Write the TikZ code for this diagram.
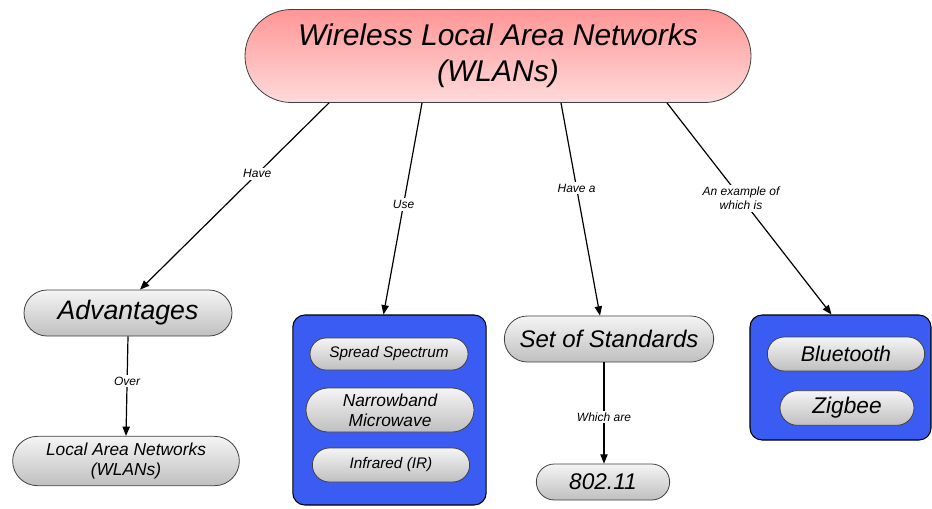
\documentclass[tikz,border=0pt]{standalone}
\usepackage{fontspec}
\setmainfont{Liberation Sans}
\usetikzlibrary{shapes.misc, arrows.meta, calc}
\definecolor{wlanblue}{RGB}{58,92,242}
\definecolor{wlanpinktop}{RGB}{255,150,150}
\definecolor{wlanpinkbot}{RGB}{255,218,218}

\begin{document}
\begin{tikzpicture}[x=0.75pt, y=-0.75pt,
    pill/.style={rounded rectangle, draw=black!75, line width=0.6pt,
      top color=gray!8, bottom color=gray!50, align=center, inner sep=0pt},
    group/.style={rectangle, rounded corners=9pt, draw=black, line width=0.8pt, fill=wlanblue},
    link/.style={-{Triangle[length=7pt,width=5.5pt]}, line width=0.9pt},
    lbl/.style={fill=white, font=\itshape\fontsize{9}{10.5}\selectfont, align=center, inner sep=1.5pt}]
    \useasboundingbox (0,0) rectangle (932,508);
    % blue groups first
    \node[group, minimum width=145pt, minimum height=142.5pt] (use) at (389.5,410) {};
    \node[group, minimum width=135.75pt, minimum height=93.75pt] (example) at (840.5,377.5) {};
    % main concept
    \node[pill, top color=wlanpinktop, bottom color=wlanpinkbot, minimum width=379.5pt, minimum height=69.75pt,
      font=\itshape\fontsize{22.5}{27}\selectfont] (wlan) at (498,56) {Wireless Local Area Networks\\(WLANs)};
    % left branch
    \node[pill, minimum width=156pt, minimum height=34.5pt, font=\itshape\fontsize{20}{24}\selectfont] (adv) at (128,313) {Advantages};
    \node[pill, minimum width=170pt, minimum height=37pt, font=\itshape\fontsize{13}{15.5}\selectfont] (lan) at (126,461) {Local Area Networks\\(WLANs)};
    % technologies
    \node[pill, minimum width=118.5pt, minimum height=24pt, font=\itshape\fontsize{11.5}{13.5}\selectfont] (spread) at (389,354) {Spread Spectrum};
    \node[pill, minimum width=126pt, minimum height=33pt, font=\itshape\fontsize{13}{15}\selectfont] (narrow) at (390,410) {Narrowband\\Microwave};
    \node[pill, minimum width=118pt, minimum height=25.5pt, font=\itshape\fontsize{11.5}{13.5}\selectfont] (ir) at (391,465) {Infrared (IR)};
    % standards
    \node[pill, minimum width=157pt, minimum height=34.5pt, font=\itshape\fontsize{18}{21}\selectfont] (std) at (609,339) {Set of Standards};
    \node[pill, minimum width=100pt, minimum height=27pt, font=\itshape\fontsize{17}{20}\selectfont] (ieee) at (603,482) {802.11};
    % examples
    \node[pill, minimum width=118pt, minimum height=25.5pt, font=\itshape\fontsize{16}{19}\selectfont] (bt) at (846,354) {Bluetooth};
    \node[pill, minimum width=100.5pt, minimum height=26pt, font=\itshape\fontsize{17}{20}\selectfont] (zig) at (847,408) {Zigbee};

    % links
    \draw[link] ($(wlan.south)+(-169,0)$) -- node[lbl, pos=.38] {Have} ($(adv.north)+(12,0)$);
    \draw[link] ($(wlan.south)+(-76,0)$) -- node[lbl, pos=.48] {Use} ($(use.north)+(-6,0)$);
    \draw[link] ($(wlan.south)+(63,0)$) -- node[lbl, pos=.40] {Have a} ($(std.north)+(-9,0)$);
    \draw[link] ($(wlan.south)+(169,0)$) -- node[lbl, pos=.45] {An example of\\which is} ($(example.north)+(-9,0)$);
    \draw[link] (adv.south) -- node[lbl, pos=.45] {Over} (lan.north);
    \draw[link] ($(std.south)+(-5,0)$) -- node[lbl, pos=.54] {Which are} ($(ieee.north)+(1,0)$);
\end{tikzpicture}
\end{document}
